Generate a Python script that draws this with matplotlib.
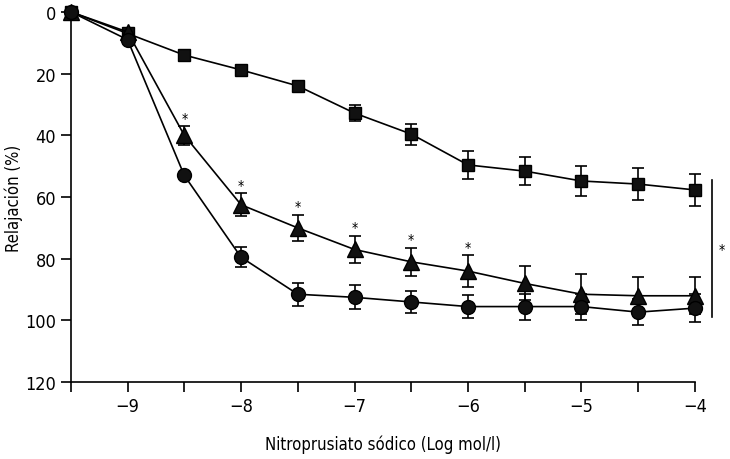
import numpy as np
from matplotlib import pyplot as plt

plt.rcParams['font.family'] = ['DejaVu Sans']
plt.rcParams['font.stretch'] = 'condensed'

x = [-9.5, -9, -8.5, -8, -7.5, -7, -6.5, -6, -5.5, -5, -4.5, -4]

sq = [0, 7, 14, 18.8, 24, 32.8, 39.6, 49.6, 51.6, 54.8, 55.8, 57.7]
sq_err = [0, 0, 0.5, 0.5, 1, 2.7, 3.4, 4.5, 4.5, 4.9, 5.2, 5.3]

tri = [0, 6.5, 40, 62.5, 70, 77, 81, 84, 88, 91.5, 92, 92]
tri_err = [0, 0, 3, 3.7, 4.2, 4.5, 4.5, 5.2, 5.5, 6.5, 6, 6]

circ = [0, 9, 53, 79.5, 91.5, 92.5, 94, 95.5, 95.5, 95.5, 97.3, 96]
circ_err = [0, 0, 0, 3.2, 3.7, 3.9, 3.7, 3.7, 4.2, 4.2, 4.2, 4.5]

star_x = [-8.5, -8, -7.5, -7, -6.5, -6]

fig = plt.figure(figsize=(7.3, 4.6), dpi=100)
ax = fig.add_axes([0.097, 0.167, 0.855, 0.805])

for y, e, m, ms in [(sq, sq_err, 's', 9), (tri, tri_err, '^', 11), (circ, circ_err, 'o', 10)]:
    ax.errorbar(x, y, yerr=e, fmt='-', marker=m, ms=ms, color='black', mfc='#111111',
                lw=1.2, elinewidth=1.2, capsize=4, capthick=1.2, clip_on=False, zorder=3)

# stars above triangle error bars
for xs in star_x:
    i = x.index(xs)
    ax.text(xs, tri[i] - tri_err[i] - 0.5, '*', ha='center', va='bottom', fontsize=10)

# significance bracket on the right
ax.plot([-3.85, -3.85], [54.5, 99], color='black', lw=1.2, clip_on=False)
ax.text(-3.76, 77, '*', ha='center', va='center', fontsize=10)

ax.set_xlim(-9.5, -4)
ax.set_ylim(120, 0)
ax.set_xticks(np.arange(-9.5, -3.9, 0.5))
ax.set_xticklabels(['' if v % 1 else '\u2212%d' % abs(v) for v in np.arange(-9.5, -3.9, 0.5)])
ax.set_yticks(range(0, 121, 20))
ax.tick_params(labelsize=13, length=7, width=1.2, direction='out')
ax.tick_params(axis='x', pad=4)
for s in ['top', 'right']:
    ax.spines[s].set_visible(False)
for s in ['left', 'bottom']:
    ax.spines[s].set_linewidth(1.2)

ax.set_ylabel('Relajación (%)', fontsize=12)
ax.yaxis.set_label_coords(-0.077, 0.5)
ax.set_xlabel('Nitroprusiato sódico (Log mol/l)', fontsize=12, labelpad=14)

fig.savefig('out.png', dpi=100)
